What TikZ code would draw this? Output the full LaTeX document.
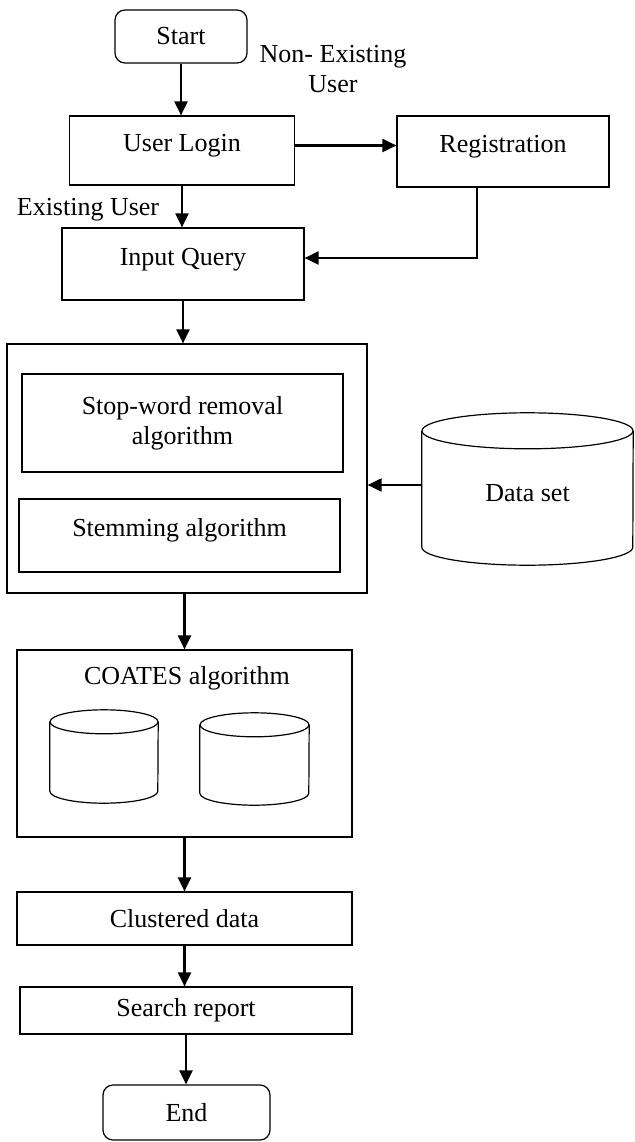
\documentclass[tikz,border=0pt]{standalone}
\usepackage{fontspec}
\setmainfont{Liberation Serif}
\usetikzlibrary{arrows.meta,positioning}

% cylinder outline round a named node: node, half width, end radius
\newcommand{\dbdraw}[3]{%
  \draw[dbline] ([yshift=-#3]#1.north west) -- ([yshift=#3]#1.south west)
    arc[start angle=180, end angle=360, x radius=#2, y radius=#3]
    -- ([yshift=-#3]#1.north east);
  \draw[dbline] ([yshift=-#3]#1.north) ellipse [x radius=#2, y radius=#3];
}

\begin{document}
\begin{tikzpicture}[
    x=1pt, y=1pt,
    every node/.style={font=\fontsize{26}{30}\selectfont},
    box/.style={
      draw=black, line width=1.2pt, align=center, inner sep=0pt
    },
    term/.style={box, rounded corners=10pt},
    hightext/.style={text height=17pt, text depth=15pt},
    db/.style={inner sep=0pt},
    dbline/.style={line width=1.2pt},
    arrow/.style={-{Triangle[length=14pt,width=13pt]}, line width=2.1pt}
  ]
    \useasboundingbox (0,0) rectangle (634,-1142);

    % login part
    \node[term, minimum width=132pt, minimum height=53pt] (start) at (181,-36.5) {Start};
    \node[box, hightext, minimum width=225pt, minimum height=69pt] (ulogin) at (182,-150.5) {User Login};
    \node[box, hightext, minimum width=212pt, minimum height=71pt] (reg) at (503,-151.5) {Registration};
    \node[box, hightext, minimum width=242pt, minimum height=72pt] (iquery) at (183,-264) {Input Query};
    \node[align=center] (nonex) at (333,-69) {Non- Existing\\User};
    \node (exist) at (88,-210) {Existing User};

    % preprocessing
    \node[box, minimum width=360pt, minimum height=249pt] (prep) at (187,-468.5) {};
    \node[box, minimum width=321pt, minimum height=98pt] (stopw) at (182.5,-423) {Stop-word removal\\algorithm};
    \node[box, hightext, minimum width=321pt, minimum height=73pt] (stem) at (179.5,-535.5) {Stemming algorithm};
    \node[db, text height=25pt, text depth=0pt, minimum width=211pt, minimum height=152pt] (dset) at (527.5,-489) {Data set};
    \dbdraw{dset}{105.5pt}{18pt}

    % clustering
    \node[box, minimum width=335pt, minimum height=187pt] (coates) at (184.5,-743.5) {};
    \node (coatesttl) at (187,-678) {COATES algorithm};
    \node[db, minimum width=108pt, minimum height=93pt] (db1) at (104,-756.5) {};
    \node[db, minimum width=109pt, minimum height=92pt] (db2) at (254.5,-759) {};
    \dbdraw{db1}{54pt}{12pt}
    \dbdraw{db2}{54.5pt}{12pt}
    \node[box, minimum width=335pt, minimum height=53pt] (clust) at (184.5,-918.5) {Clustered data};
    \node[box, minimum width=332pt, minimum height=47pt] (report) at (186,-1010.5) {Search report};
    \node[term, minimum width=167pt, minimum height=55pt] (finish) at (186.5,-1112.5) {End};

    \draw[arrow] (start.south) -- (start.south |- ulogin.north);
    \draw[arrow] ([yshift=5pt]ulogin.east) -- ([yshift=5pt]ulogin.east -| reg.west);
    \draw[arrow] (ulogin.south) -- (ulogin.south |- iquery.north);
    \draw[arrow] ([xshift=-26pt]reg.south) |- ([yshift=6pt]iquery.east);
    \draw[arrow] (iquery.south) -- (iquery.south |- prep.north);
    \draw[arrow] ([yshift=4pt]dset.west) -- ([yshift=4pt]dset.west -| prep.east);
    \draw[arrow] (coates.north |- prep.south) -- (coates.north);
    \draw[arrow] (coates.south) -- (coates.south |- clust.north);
    \draw[arrow] (clust.south) -- (clust.south |- report.north);
    \draw[arrow] (report.south) -- (report.south |- finish.north);
  \end{tikzpicture}
\end{document}
